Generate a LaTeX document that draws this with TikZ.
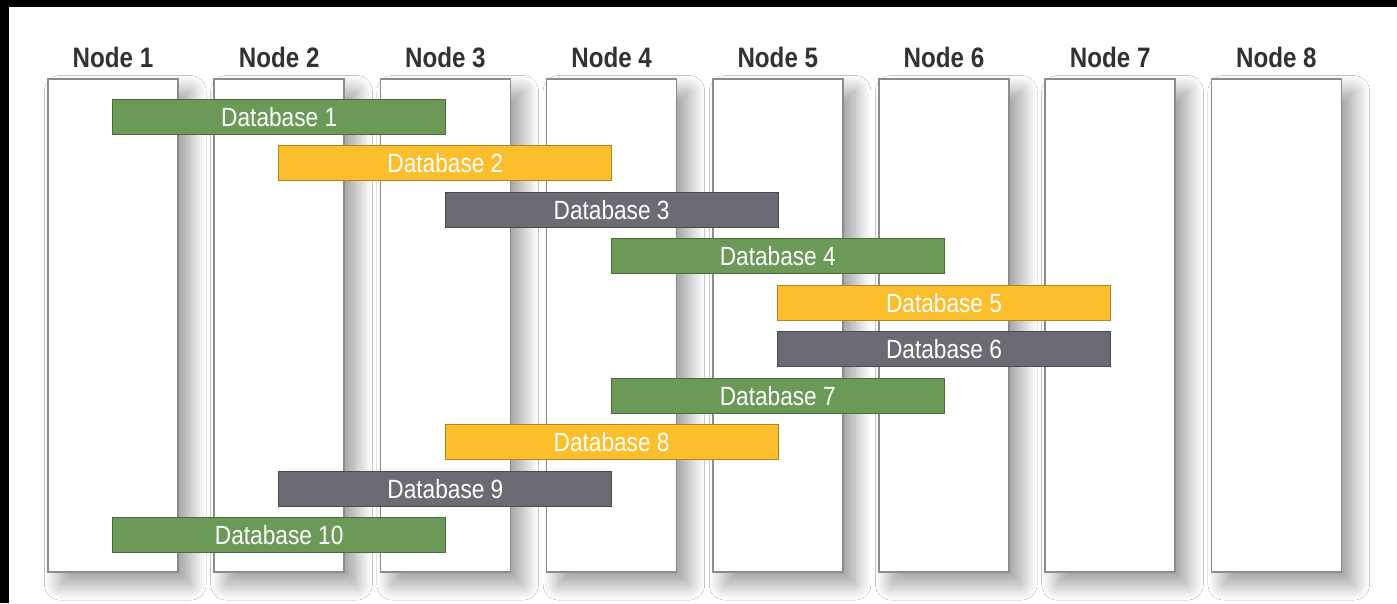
\documentclass[tikz,border=0pt]{standalone}
\usepackage{fontspec}
\setmainfont[FakeStretch=0.86]{Liberation Sans}
\usetikzlibrary{positioning,shadows.blur}

\definecolor{dbgreen}{RGB}{106,153,88}
\definecolor{dbyellow}{RGB}{251,190,45}
\definecolor{dbgray}{RGB}{107,107,115}
\definecolor{labelgray}{RGB}{50,50,50}

\begin{document}
\begin{tikzpicture}[x=0.02cm,y=0.02cm,
	column/.style={draw=gray!90,fill=white,line width=1pt,minimum width=2.6cm,minimum height=9.86cm,
		blur shadow={shadow xshift=7pt,shadow yshift=-7pt,shadow blur radius=9pt,
			shadow blur steps=30,shadow opacity=40}},
	lbl/.style={inner sep=0pt,text=labelgray,font=\bfseries\fontsize{16}{16}\selectfont},
	dbbar/.style={fill=#1,draw=#1!70!black,line width=0.6pt,minimum width=6.66cm,minimum height=0.7cm,
		inner sep=0pt,text=white,font=\fontsize{15}{15}\selectfont}]

\useasboundingbox (0,0) rectangle (1397,603);
\fill[white] (0,0) rectangle (1397,603);
\fill[black] (0,596) rectangle (1397,603);
\fill[black] (0,0) rectangle (9,603);

% server columns
\foreach \i in {1,...,8}{
	\node[column] (n\i) at ({113+(\i-1)*166.2},277.5) {};
	\node[lbl,above=0.2cm of n\i] (l\i) {Node \i};
}

% databases spread over the nodes
\foreach \k/\c/\col in {1/2/dbgreen,2/3/dbyellow,3/4/dbgray,4/5/dbgreen,5/6/dbyellow,
	6/6/dbgray,7/5/dbgreen,8/4/dbyellow,9/3/dbgray,10/2/dbgreen}{
	\node[dbbar=\col] (db\k) at (n\c |- 0,{486-(\k-1)*46.45}) {Database \k};
}

\end{tikzpicture}
\end{document}
